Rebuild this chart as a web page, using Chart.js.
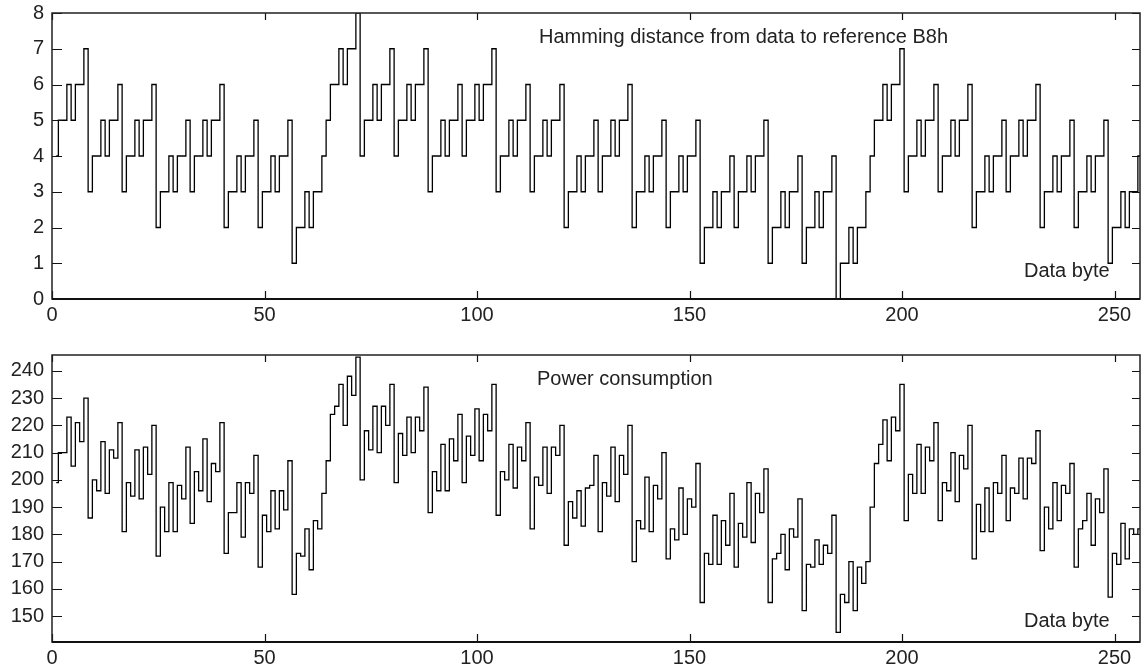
<!DOCTYPE html>
<html>
<head>
<meta charset="utf-8">
<script src="https://cdn.jsdelivr.net/npm/chart.js@4"></script>
<style>
  html, body { margin: 0; padding: 0; background: #fff; }
  #top { position: absolute; left: 0; top: 0; width: 1142px; height: 330px; }
  #bottom { position: absolute; left: 0; top: 330px; width: 1142px; height: 337px; }
</style>
</head>
<body>
<div id="top"><canvas id="hdChart"></canvas></div>
<div id="bottom"><canvas id="powerChart"></canvas></div>
<script>
// Hamming distance of each data byte (0..255) to B8h, one row per high nibble
var hamming = [
  4,5,5,6,5,6,6,7,3,4,4,5,4,5,5,6,
  3,4,4,5,4,5,5,6,2,3,3,4,3,4,4,5,
  3,4,4,5,4,5,5,6,2,3,3,4,3,4,4,5,
  2,3,3,4,3,4,4,5,1,2,2,3,2,3,3,4,
  5,6,6,7,6,7,7,8,4,5,5,6,5,6,6,7,
  4,5,5,6,5,6,6,7,3,4,4,5,4,5,5,6,
  4,5,5,6,5,6,6,7,3,4,4,5,4,5,5,6,
  3,4,4,5,4,5,5,6,2,3,3,4,3,4,4,5,
  3,4,4,5,4,5,5,6,2,3,3,4,3,4,4,5,
  2,3,3,4,3,4,4,5,1,2,2,3,2,3,3,4,
  2,3,3,4,3,4,4,5,1,2,2,3,2,3,3,4,
  1,2,2,3,2,3,3,4,0,1,1,2,1,2,2,3,
  4,5,5,6,5,6,6,7,3,4,4,5,4,5,5,6,
  3,4,4,5,4,5,5,6,2,3,3,4,3,4,4,5,
  3,4,4,5,4,5,5,6,2,3,3,4,3,4,4,5,
  2,3,3,4,3,4,4,5,1,2,2,3,2,3,3,4
];

// measured power consumption per data byte
var power = [
  199,210,210,223,205,221,214,230,186,200,196,214,195,211,208,221,
  181,199,194,211,193,212,202,220,172,190,181,199,181,198,193,212,
  184,203,196,215,192,206,203,221,173,188,188,199,179,199,195,209,
  168,187,181,196,182,196,189,207,158,173,172,182,167,185,182,195,
  207,224,227,235,220,238,231,245,200,218,211,227,210,227,220,235,
  199,217,209,223,210,223,218,234,188,203,196,213,196,215,207,224,
  199,216,209,226,207,224,218,235,187,203,200,213,197,212,207,221,
  182,201,198,212,195,212,209,220,176,192,186,196,183,197,198,209,
  181,199,194,212,192,209,202,220,170,185,182,201,181,198,193,210,
  171,182,178,197,180,193,190,206,155,173,169,187,169,185,176,195,
  168,184,179,199,177,195,188,204,155,171,173,180,167,182,179,193,
  152,169,168,178,169,176,173,187,144,158,155,170,152,168,162,170,
  190,206,213,222,207,223,218,235,185,202,195,213,195,212,207,221,
  185,199,196,210,192,209,204,220,171,191,181,197,181,199,195,209,
  185,197,195,208,193,208,206,218,174,190,182,199,185,198,195,206,
  168,182,185,195,176,193,188,204,157,173,169,184,171,182,180,182
];

var xTicks = [0, 50, 100, 150, 200, 250];
var hdTicks = [0, 1, 2, 3, 4, 5, 6, 7, 8];
var powerTicks = [150, 160, 170, 180, 190, 200, 210, 220, 230, 240];

var FONT = 'Liberation Sans, Arial, Helvetica, sans-serif';

// matlab style index: byte d sits at x = d + 1
function toPoints(values) {
  return values.map(function (v, i) { return { x: i + 1, y: v }; });
}

// box, inward ticks on all four sides and the free text labels
var framePlugin = {
  id: 'frame',
  afterDraw: function (chart, args, opts) {
    var ctx = chart.ctx;
    var a = chart.chartArea;
    var xs = chart.scales.x;
    var ys = chart.scales.y;
    ctx.save();
    ctx.strokeStyle = '#111';
    ctx.lineWidth = 1.2;
    xs.ticks.forEach(function (t) {
      var px = Math.round(xs.getPixelForValue(t.value)) + 0.5;
      ctx.beginPath();
      ctx.moveTo(px, a.bottom); ctx.lineTo(px, a.bottom - 8);
      ctx.moveTo(px, a.top); ctx.lineTo(px, a.top + 7);
      ctx.stroke();
    });
    ys.ticks.forEach(function (t) {
      var py = Math.round(ys.getPixelForValue(t.value)) + 0.5;
      ctx.beginPath();
      ctx.moveTo(a.left, py); ctx.lineTo(a.left + 10, py);
      ctx.moveTo(a.right, py); ctx.lineTo(a.right - 8, py);
      ctx.stroke();
    });
    ctx.lineWidth = 1.5;
    ctx.strokeStyle = '#222';
    ctx.strokeRect(a.left, a.top, a.right - a.left, a.bottom - a.top);
    ctx.lineWidth = 2;
    ctx.strokeStyle = '#111';
    ctx.beginPath();
    ctx.moveTo(a.left, a.bottom); ctx.lineTo(a.right, a.bottom);
    ctx.stroke();

    ctx.fillStyle = '#222';
    ctx.font = '20px ' + FONT;
    ctx.textAlign = 'left';
    ctx.textBaseline = 'alphabetic';
    (opts.labels || []).forEach(function (l) {
      ctx.fillText(l.text, l.x, l.y);
    });
    ctx.restore();
  }
};

function makeChart(id, values, yMin, yMax, yList, padTop, xAxisHeight, labels) {
  return new Chart(document.getElementById(id).getContext('2d'), {
    type: 'line',
    data: {
      datasets: [{
        data: toPoints(values),
        borderColor: '#000',
        borderWidth: 1.3,
        pointRadius: 0,
        stepped: 'middle',
        fill: false
      }]
    },
    options: {
      events: [],
      animation: false,
      responsive: true,
      maintainAspectRatio: false,
      layout: { padding: { top: padTop, right: 2, left: 0, bottom: 0 } },
      scales: {
        x: {
          type: 'linear',
          min: 0,
          max: 256,
          grid: { display: false },
          border: { display: false },
          afterBuildTicks: function (s) { s.ticks = xTicks.map(function (v) { return { value: v }; }); },
          afterFit: function (s) {
            s.height = xAxisHeight;
            s.paddingLeft = 0;
            s.paddingRight = 0;
          },
          ticks: { font: { family: FONT, size: 20 }, color: '#222', padding: -4, maxRotation: 0 }
        },
        y: {
          min: yMin,
          max: yMax,
          grid: { display: false },
          border: { display: false },
          afterBuildTicks: function (s) { s.ticks = yList.map(function (v) { return { value: v }; }); },
          afterFit: function (s) {
            s.width = 52;
            s.paddingTop = 0;
            s.paddingBottom = 0;
          },
          ticks: { font: { family: FONT, size: 20 }, color: '#222', padding: 0 }
        }
      },
      plugins: {
        legend: { display: false },
        tooltip: { enabled: false },
        frame: { labels: labels }
      }
    },
    plugins: [framePlugin]
  });
}

makeChart('hdChart', hamming, 0, 8, hdTicks, 13, 31, [
  { text: 'Hamming distance from data to reference B8h', x: 539, y: 43 },
  { text: 'Data byte', x: 1024, y: 277 }
]);

makeChart('powerChart', power, 140.5, 245.8, powerTicks, 25, 25, [
  { text: 'Power consumption', x: 537, y: 55 },
  { text: 'Data byte', x: 1024, y: 297 }
]);
</script>
</body>
</html>
